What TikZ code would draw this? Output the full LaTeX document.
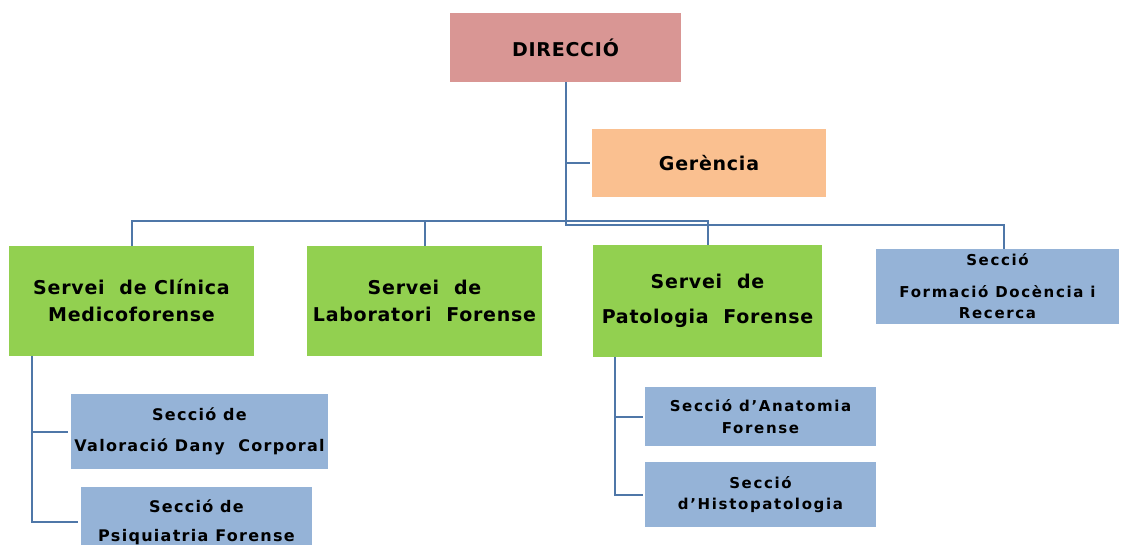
\documentclass[tikz,border=0pt]{standalone}
\usepackage{fontspec}
\setmainfont{DejaVu Sans}
\newfontfamily\fbig{DejaVu Sans}[LetterSpace=4]
\newfontfamily\fmid{DejaVu Sans}[LetterSpace=8]
\newfontfamily\fsml{DejaVu Sans}[LetterSpace=11]
\definecolor{dirc}{HTML}{D99694}
\definecolor{gerc}{HTML}{FAC090}
\definecolor{grnc}{HTML}{92D050}
\definecolor{bluc}{HTML}{95B3D7}
\definecolor{linc}{HTML}{4F77A8}
\begin{document}
\begin{tikzpicture}[x=1pt,y=-1pt,
  box/.style={draw=none, inner sep=0pt, align=center, text=black},
  bigt/.style={font=\fbig\bfseries\fontsize{19}{27}\selectfont},
  midt/.style={font=\fmid\bfseries\fontsize{16}{31}\selectfont},
  smlt/.style={font=\fsml\bfseries\fontsize{15}{21.5}\selectfont},
  conn/.style={draw=linc, line width=2pt}]
\useasboundingbox (0,0) rectangle (1121,544);
\clip (0,0) rectangle (1121,544);
\fill[white] (0,0) rectangle (1121,544);

\node[box, bigt, fill=dirc, minimum width=231pt, minimum height=69pt] (dir) at (565.5,47.5) {DIRECCIÓ};
\node[box, bigt, fill=gerc, minimum width=234pt, minimum height=68pt] (ger) at (709,163) {Gerència};

\node[box, bigt, fill=grnc, minimum width=245pt, minimum height=110pt] (s1) at (131.5,301) {Servei\ \ de Clínica\\Medicoforense};
\node[box, bigt, fill=grnc, minimum width=235pt, minimum height=110pt] (s2) at (424.5,301) {Servei\ \ de\\Laboratori\ \ Forense};
\node[box, bigt, fill=grnc, minimum width=229pt, minimum height=112pt] (s3) at (707.5,301) {Servei\ \ de\\[8pt]Patologia\ \ Forense};
\node[box, smlt, fill=bluc, minimum width=243pt, minimum height=75pt] (s4) at (997.5,286.5) {Secció\\[10pt]Formació Docència i\\Recerca};

\node[box, midt, fill=bluc, minimum width=257pt, minimum height=75pt] (v1) at (199.5,431.5) {Secció de\\Valoració Dany\ \ Corporal};
\node[box, midt, fill=bluc, minimum width=231pt, minimum height=70pt] (v2) at (196.5,522) {Secció de\\[-2pt]Psiquiatria Forense};

\node[box, smlt, fill=bluc, minimum width=231pt, minimum height=59pt] (a1) at (760.5,416.5) {Secció d’Anatomia\\Forense};
\node[box, smlt, fill=bluc, minimum width=231pt, minimum height=65pt] (a2) at (760.5,494.5) {Secció\\d’Histopatologia};

\coordinate (barR) at (565.5,225);
\coordinate (barL) at (565.5,221);

\draw[conn] (dir.south) -- (barR) -| ([xshift=6pt]s4.north);
\draw[conn] (dir.south |- ger.west) -- ([xshift=-2pt]ger.west);
\draw[conn] (s1.north) |- (barL) -| (s3.north);
\draw[conn] (s2.north) -- (s2.north |- barL);

\draw[conn] ([xshift=23pt]s1.south west) |- ([xshift=-3pt]v2.west);
\draw[conn] ([xshift=23pt]s1.south west |- v1.west) -- ([xshift=-3pt]v1.west);

\draw[conn] ([xshift=22pt]s3.south west) |- ([xshift=-2pt]a2.west);
\draw[conn] ([xshift=22pt]s3.south west |- a1.west) -- ([xshift=-2pt]a1.west);
\end{tikzpicture}
\end{document}
